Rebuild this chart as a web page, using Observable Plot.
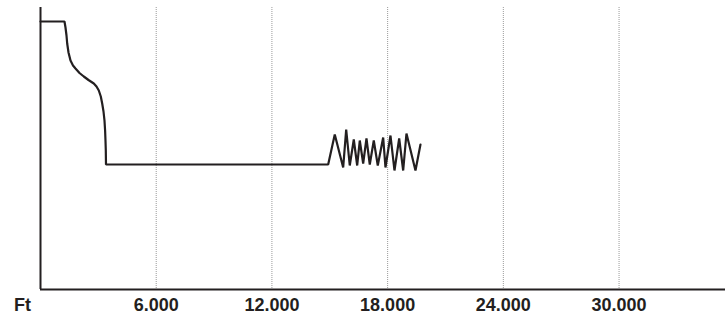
<!DOCTYPE html>
<html>
<head>
<meta charset="utf-8">
<script src="https://cdn.jsdelivr.net/npm/d3@7"></script>
<script src="https://cdn.jsdelivr.net/npm/@observablehq/plot@0.6"></script>
<style>
  html, body { margin: 0; padding: 0; background: #fff; }
  #chart svg { display: block; }
</style>
</head>
<body>
<div id="chart"></div>
<script>
// Distance along the trace (feet)
const distanceFt = [
  0, 1244, 1296, 1348, 1384, 1452, 1556, 1685, 1815, 2022, 2245, 2489, 2764, 2904,
  3023, 3127, 3199, 3267, 3318, 3350, 3370, 3386, 3396,
  14917, 15259, 15695, 15851, 16037, 16245, 16421, 16556, 16732, 16903, 17074,
  17282, 17489, 17769, 17888, 18148, 18355, 18599, 18806, 18977, 19444, 19703
];
// Signal level (arbitrary units)
const level = [
  26.8, 26.8, 26.2, 25.4, 24.6, 23.7, 22.9, 22.4, 22.1, 21.65, 21.3, 20.95, 20.6, 20.3,
  19.9, 19.3, 18.6, 17.8, 16.9, 15.9, 14.9, 13.9, 12.5,
  12.5, 15.5, 12.2, 16.0, 12.4, 15.0, 12.4, 14.9, 12.6, 15.1, 12.5,
  14.9, 12.4, 15.2, 12.2, 15.4, 11.9, 15.1, 11.9, 15.6, 11.9, 14.5
];
const tickValues = [6000, 12000, 18000, 24000, 30000];
const axisLabel = "Ft";

const data = distanceFt.map((d, i) => ({x: d, y: level[i]}));
const fmt = d => d3.format(",")(d).replace(/,/g, ".");

const chart = Plot.plot({
  width: 725,
  height: 321,
  marginLeft: 40,
  marginRight: 0,
  marginTop: 7,
  marginBottom: 32,
  style: {fontFamily: "'Liberation Sans Narrow', 'Liberation Sans', Arial, sans-serif", fontSize: "18px", fontWeight: "bold", background: "#fff"},
  x: {domain: [0, 35520], label: null},
  y: {domain: [0, 28.2], axis: null},
  marks: [
    Plot.ruleX(tickValues, {stroke: "#9a9a9a", strokeWidth: 1, strokeDasharray: "1,1"}),
    Plot.axisX(tickValues, {
      tickSize: 0, tickPadding: 9, tickFormat: fmt, label: null,
      fill: "#231f20"
    }),
    Plot.text([0], {
      x: d => d, frameAnchor: "bottom", dx: -18, dy: 9, text: () => axisLabel,
      fill: "#231f20", lineAnchor: "top"
    }),
    Plot.line(data, {x: "x", y: "y", stroke: "#231f20", strokeWidth: 2.2, strokeLinejoin: "miter"}),
    Plot.ruleX([0], {stroke: "#231f20", strokeWidth: 2}),
    Plot.ruleY([0], {stroke: "#231f20", strokeWidth: 2})
  ]
});
document.getElementById("chart").appendChild(chart);
</script>
</body>
</html>
